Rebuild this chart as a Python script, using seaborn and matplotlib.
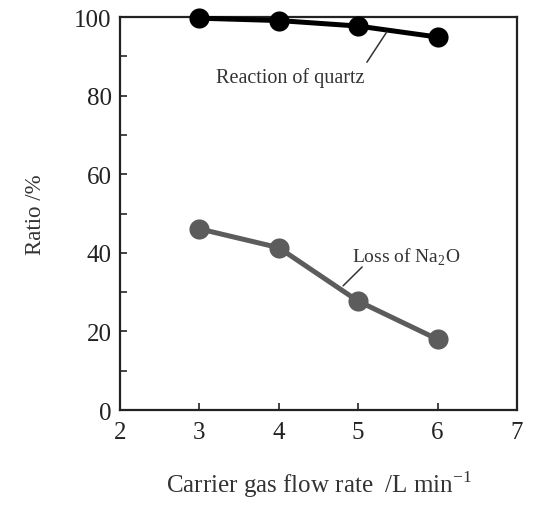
import matplotlib
matplotlib.use("Agg")
import matplotlib.pyplot as plt
import seaborn as sns
import pandas as pd
from matplotlib.ticker import MultipleLocator

# data
flow_rate = [3, 4, 5, 6]
quartz_reaction = [99.7, 99.1, 97.7, 94.9]
na2o_loss = [46.1, 41.3, 27.7, 18.0]

df = pd.DataFrame({
    "flow": flow_rate * 2,
    "ratio": quartz_reaction + na2o_loss,
    "series": ["Reaction of quartz"] * 4 + ["Loss of Na2O"] * 4,
})

sns.set_style("ticks")
plt.rcParams['font.family'] = ['Liberation Serif', 'DejaVu Serif']
plt.rcParams['mathtext.fontset'] = 'custom'
plt.rcParams['mathtext.rm'] = 'Liberation Serif'

fig = plt.figure(figsize=(5.34, 5.06), dpi=100)
ax = fig.add_axes([0.2247, 0.1877, 0.7434, 0.7767])

sns.lineplot(data=df, x="flow", y="ratio", hue="series",
             palette={"Reaction of quartz": "black", "Loss of Na2O": "#5c5c5c"},
             marker="o", markersize=14.5, markeredgewidth=0, linewidth=3.6,
             legend=False, ax=ax, clip_on=False, zorder=3)

ax.set_xlim(2, 7)
ax.set_ylim(0, 100)
ax.xaxis.set_major_locator(MultipleLocator(1))
ax.yaxis.set_major_locator(MultipleLocator(20))
ax.yaxis.set_minor_locator(MultipleLocator(10))
ax.tick_params(direction="in", length=5, width=1.2, labelsize=18, colors="#222222")
ax.tick_params(which="minor", direction="in", length=5, width=1.2, left=True)
ax.tick_params(axis="x", bottom=True, top=False, pad=8)
ax.tick_params(axis="y", right=False, pad=6)
for s in ax.spines.values():
    s.set_linewidth(1.6)
    s.set_color("#222222")

ax.set_xlabel("Carrier gas flow rate  /L min$^{\\mathregular{-1}}$", fontsize=18,
              color="#333333", labelpad=18)
ax.set_ylabel("Ratio /%", fontsize=16.5, color="#333333", labelpad=20)

# labels with leader lines
ax.text(4.14, 84.7, "Reaction of quartz", ha="center", va="center",
        fontsize=14.5, color="#333333")
ax.annotate("", xy=(5.36, 96.2), xytext=(5.11, 88.5),
            arrowprops=dict(arrowstyle="-", color="#333333", lw=1.1,
                            shrinkA=0, shrinkB=0))
ax.text(5.61, 39.2, "Loss of Na$_{\\mathregular{2}}$O", ha="center", va="center",
        fontsize=14, color="#333333")
ax.annotate("", xy=(4.81, 31.6), xytext=(5.05, 36.4),
            arrowprops=dict(arrowstyle="-", color="#333333", lw=1.1,
                            shrinkA=0, shrinkB=0))

fig.savefig("out.png", dpi=100)
